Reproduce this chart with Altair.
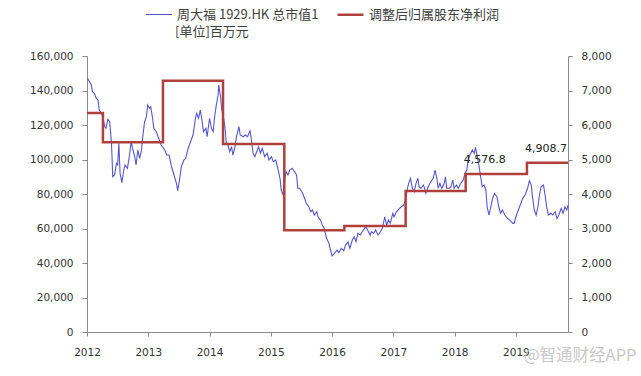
import altair as alt
import pandas as pd

# ---- data ----
series_names = ["周大福 1929.HK 总市值1", "调整后归属股东净利润"]
unit_note = "[单位]百万元"
watermark = "@智通财经APP"

cap_dates = [
    2012.01, 2012.07, 2012.09, 2012.12, 2012.15, 2012.18, 2012.20, 2012.25, 2012.29, 2012.31,
    2012.34, 2012.37, 2012.40, 2012.42, 2012.45, 2012.48, 2012.50, 2012.52, 2012.54, 2012.57,
    2012.60, 2012.62, 2012.66, 2012.69, 2012.72, 2012.75, 2012.78, 2012.80, 2012.83, 2012.86,
    2012.89, 2012.91, 2012.94, 2012.97, 2012.99, 2013.02, 2013.04, 2013.07, 2013.09, 2013.13,
    2013.17, 2013.21, 2013.27, 2013.30, 2013.34, 2013.38, 2013.42, 2013.46, 2013.48, 2013.51,
    2013.54, 2013.58, 2013.61, 2013.65, 2013.69, 2013.73, 2013.77, 2013.79, 2013.82, 2013.85,
    2013.88, 2013.90, 2013.94, 2013.96, 2014.00, 2014.03, 2014.06, 2014.08, 2014.11, 2014.14,
    2014.15, 2014.18, 2014.20, 2014.23, 2014.26, 2014.27, 2014.30, 2014.33, 2014.36, 2014.38,
    2014.41, 2014.44, 2014.48, 2014.50, 2014.55, 2014.58, 2014.62, 2014.66, 2014.68, 2014.71,
    2014.74, 2014.76, 2014.80, 2014.83, 2014.86, 2014.90, 2014.94, 2014.97, 2015.01, 2015.04,
    2015.08, 2015.12, 2015.15, 2015.17, 2015.20, 2015.23, 2015.25, 2015.28, 2015.31, 2015.35,
    2015.37, 2015.42, 2015.44, 2015.47, 2015.52, 2015.55, 2015.58, 2015.62, 2015.65, 2015.68,
    2015.71, 2015.75, 2015.77, 2015.81, 2015.84, 2015.87, 2015.91, 2015.95, 2015.96, 2016.00,
    2016.04, 2016.08, 2016.11, 2016.15, 2016.19, 2016.22, 2016.26, 2016.29, 2016.33, 2016.36,
    2016.39, 2016.42, 2016.46, 2016.51, 2016.55, 2016.58, 2016.62, 2016.64, 2016.68, 2016.71,
    2016.75, 2016.79, 2016.82, 2016.86, 2016.89, 2016.92, 2016.95, 2016.99, 2017.01, 2017.05,
    2017.10, 2017.13, 2017.17, 2017.20, 2017.23, 2017.25, 2017.28, 2017.31, 2017.34, 2017.37,
    2017.40, 2017.42, 2017.45, 2017.49, 2017.51, 2017.53, 2017.57, 2017.61, 2017.65, 2017.68,
    2017.71, 2017.73, 2017.76, 2017.79, 2017.83, 2017.85, 2017.87, 2017.91, 2017.94, 2017.97,
    2017.99, 2018.03, 2018.06, 2018.10, 2018.14, 2018.17, 2018.20, 2018.22, 2018.25, 2018.29,
    2018.32, 2018.34, 2018.37, 2018.40, 2018.42, 2018.45, 2018.48, 2018.51, 2018.53, 2018.56,
    2018.59, 2018.62, 2018.65, 2018.69, 2018.72, 2018.75, 2018.78, 2018.82, 2018.86, 2018.90,
    2018.95, 2018.97, 2019.00, 2019.04, 2019.08, 2019.11, 2019.15, 2019.19, 2019.22, 2019.25,
    2019.27, 2019.30, 2019.33, 2019.36, 2019.38, 2019.41, 2019.45, 2019.48, 2019.50, 2019.53,
    2019.57, 2019.60, 2019.64, 2019.67, 2019.70, 2019.74, 2019.77, 2019.80, 2019.83, 2019.85,
]
market_cap = [
    147000, 143200, 139300, 138400, 135500, 134500, 128700, 125800, 119000, 118100,
    123300, 121900, 109400, 90000, 91000, 97800, 96800, 109400, 92000, 86600,
    93900, 96800, 94900, 101600, 110300, 105500, 101600, 96800, 105500, 100700,
    105500, 113200, 121900, 124800, 131600, 129700, 130600, 123900, 118100, 116100,
    112300, 108400, 105500, 102600, 102600, 95800, 91000, 86200, 81900, 88100,
    95800, 99700, 100700, 106500, 110300, 114200, 123900, 126800, 123900, 128700,
    121900, 116100, 118100, 113200, 123900, 118100, 116100, 123900, 131600, 137400,
    143200, 136400, 128700, 123900, 116100, 110300, 108400, 104500, 107400, 102600,
    106500, 113200, 119000, 114200, 113200, 114200, 113200, 116700, 112300, 103600,
    101600, 103600, 107400, 103600, 106500, 101600, 103600, 99700, 101600, 98700,
    99700, 93900, 89100, 82300, 79400, 89100, 92900, 91000, 93900, 94900,
    93900, 91000, 83300, 83300, 80400, 77500, 74600, 72600, 69700, 70700,
    67800, 69700, 66800, 64900, 62000, 60100, 54300, 51400, 49400, 44100,
    45600, 47500, 46000, 48500, 47100, 50400, 52300, 48500, 53300, 55200,
    52300, 57200, 56200, 59100, 61000, 59100, 56200, 58100, 57200, 59100,
    56200, 58100, 60100, 66800, 62000, 64900, 63000, 68800, 66800, 69700,
    71700, 72600, 73600, 76500, 83300, 86200, 89100, 83300, 81300, 86200,
    89100, 84200, 83300, 85200, 83300, 80400, 84200, 87100, 89100, 93900,
    89100, 83300, 86200, 83300, 86200, 90000, 83300, 83300, 84200, 88100,
    83300, 85200, 83300, 86200, 88100, 92000, 93900, 99700, 102600, 105500,
    103600, 107100, 101600, 95800, 91000, 84200, 85200, 82300, 72600, 67800,
    72600, 77500, 80400, 78400, 72600, 68800, 70700, 67800, 65900, 64900,
    63000, 63000, 66800, 70700, 74600, 77500, 79400, 83300, 87700, 85200,
    78400, 70700, 67800, 72600, 78400, 84200, 85200, 78400, 72600, 67800,
    68800, 67800, 69700, 65900, 67800, 71700, 68800, 72600, 70700, 73600,
]

profit_dates = [2012.0, 2012.26, 2013.24, 2014.22, 2015.22, 2016.20, 2017.20, 2018.18, 2019.18, 2019.85]
profit_values = [6350, 5500, 7280, 5450, 2950, 3070, 4090, 4576.8, 4908.7, 4908.7]

label_dates = [2018.18, 2019.18]
label_values = [4576.8, 4908.7]
label_texts = ["4,576.8", "4,908.7"]

year_ticks = list(range(2012, 2020))
left_ticks = list(range(0, 160001, 20000))
right_ticks = list(range(0, 8001, 1000))
x_domain = [2012.0, 2019.85]

# ---- tables ----
cap_df = pd.DataFrame({"date": cap_dates, "value": market_cap, "series": series_names[0]})
profit_df = pd.DataFrame({"date": profit_dates, "value": profit_values, "series": series_names[1]})
label_df = pd.DataFrame({"date": label_dates, "value": label_values, "text": label_texts})
note_df = pd.DataFrame({"text": [unit_note]})
wm_df = pd.DataFrame({"text": [watermark]})

AX_FONT = "DejaVu Sans"
CJK = "Noto Sans CJK SC"
AXIS_GRAY = "#8a8a8a"

x_enc = alt.X(
    "date:Q",
    scale=alt.Scale(domain=x_domain, nice=False, zero=False),
    axis=alt.Axis(values=year_ticks, format="d", title=None, grid=False,
                  tickSize=4, labelPadding=11, labelFlush=False),
)

left_axis = alt.Axis(values=left_ticks, format=",.0f", title=None, grid=False,
                     orient="left", tickSize=5, labelPadding=9)
right_axis = alt.Axis(values=right_ticks, format=",.0f", title=None, grid=False,
                      orient="right", tickSize=4, labelPadding=9)
left_scale = alt.Scale(domain=[0, 160000], nice=False)
right_scale = alt.Scale(domain=[0, 8000], nice=False)

legend = alt.Legend(
    title=None, orient="none", legendX=58, legendY=-56, direction="horizontal",
    symbolType="stroke", symbolSize=676, labelOffset=4, columnPadding=13,
    labelFont=CJK, labelFontSize=13, labelColor="#404040", labelLimit=400, padding=0,
)
color_enc = alt.Color("series:N",
                      scale=alt.Scale(domain=series_names, range=["#5656cc", "#b0403c"]),
                      legend=legend)
width_enc = alt.StrokeWidth("series:N",
                            scale=alt.Scale(domain=series_names, range=[1.1, 2.5]),
                            legend=legend)

blue = alt.Chart(cap_df).mark_line().encode(
    x=x_enc,
    y=alt.Y("value:Q", scale=left_scale, axis=left_axis),
    color=color_enc,
    strokeWidth=width_enc,
)

red_line = alt.Chart(profit_df).mark_line(interpolate="step-after").encode(
    x=x_enc,
    y=alt.Y("value:Q", scale=right_scale, axis=right_axis),
    color=color_enc,
    strokeWidth=width_enc,
)
red_text = alt.Chart(label_df).mark_text(
    font=AX_FONT, fontSize=11, color="#222222", align="center", baseline="middle",
    dx=19, dy=-14,
).encode(
    x=x_enc,
    y=alt.Y("value:Q", scale=right_scale, axis=right_axis),
    text="text:N",
)
red = alt.layer(red_line, red_text)

note = alt.Chart(note_df).mark_text(
    font=CJK, fontSize=13, color="#404040", align="left", baseline="middle",
).encode(x=alt.value(88), y=alt.value(-24), text="text:N")

wm = alt.Chart(wm_df).mark_text(
    font=CJK, fontSize=16.5, color="#c9c9c9", align="left", baseline="middle",
).encode(x=alt.value(437), y=alt.value(300), text="text:N")

chart = (
    alt.layer(blue, red, note, wm)
    .resolve_scale(y="independent")
    .properties(
        width=481, height=276,
        autosize=alt.AutoSizeParams(type="none"),
        padding={"left": 87, "top": 56, "right": 73, "bottom": 44},
        background="white",
    )
    .configure_view(stroke=None)
    .configure_axis(
        labelFont=AX_FONT, labelFontSize=10.5, labelColor="#333333",
        domainColor=AXIS_GRAY, tickColor=AXIS_GRAY, domainWidth=1, tickWidth=1,
    )
)

chart.save("out.html", embed_options={"renderer": "svg", "actions": False})
